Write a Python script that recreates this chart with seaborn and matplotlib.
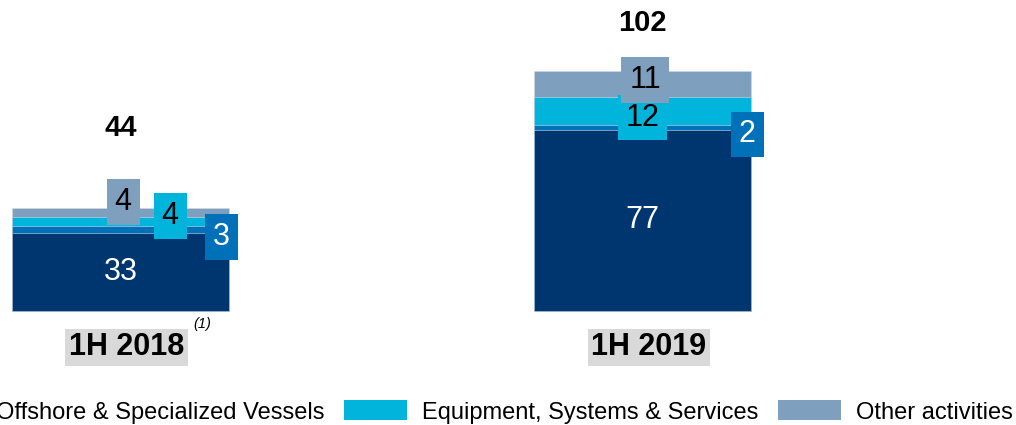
import matplotlib
matplotlib.use("Agg")
import matplotlib.pyplot as plt
from matplotlib.patches import Patch
import seaborn as sns
import numpy as np
import pandas as pd

# ---- data ----
periods = ["1H 2018", "1H 2019"]
footnotes = ["(1)", ""]
segments = ["Shipbuilding", "Offshore & Specialized Vessels",
            "Equipment, Systems & Services", "Other activities"]
shipbuilding = [33, 77]
offshore = [3, 2]
equipment = [4, 12]
other = [4, 11]
totals = [44, 102]

# ---- style ----
colors = ["#00366f", "#0070b8", "#00b4dc", "#7f9fbe"]
label_text_colors = ["white", "white", "black", "black"]
# boxed-label offsets (dx, dy) relative to the segment centre, per segment per period
box_offsets = {
    1: [(0.193, -3.2), (0.201, -2.9)],
    2: [(0.095, 2.4), (0.0, -2.7)],
    3: [(0.005, 4.4), (0.005, 1.6)],
}
total_offsets = [34, 20.5]

sns.set_theme(style="white")
plt.rcParams["font.family"] = ["Liberation Sans", "DejaVu Sans"]
plt.rcParams["text.color"] = "black"

fig = plt.figure(figsize=(10.16, 4.25), dpi=100)
ax = fig.add_axes([0, 0, 1, 1])

values = [shipbuilding, offshore, equipment, other]
cum = np.cumsum(np.array(values), axis=0)
bottoms = np.vstack([np.zeros(len(periods)), cum[:-1]])

for i in reversed(range(len(segments))):
    df = pd.DataFrame({"period": periods, "value": cum[i]})
    sns.barplot(data=df, x="period", y="value", color=colors[i], saturation=1,
                width=0.416, errorbar=None, ax=ax,
                edgecolor="#d0dae6", linewidth=0.4)

ax.set_xlim(-0.2308, 1.7155)
ax.set_ylim(-48.5, 132.3)
ax.axis("off")

# navy labels inside bars
for j in range(len(periods)):
    ax.text(j, shipbuilding[j] / 2, str(shipbuilding[j]), color="white",
            fontsize=22, ha="center", va="center")

# boxed labels
for i in [1, 2, 3]:
    for j in range(len(periods)):
        dx, dy = box_offsets[i][j]
        yc = bottoms[i][j] + values[i][j] / 2 + dy
        ax.text(j + dx, yc, str(values[i][j]), color=label_text_colors[i],
                fontsize=22, ha="center", va="center", zorder=5 + i,
                bbox=dict(boxstyle="square,pad=0.26", facecolor=colors[i],
                          edgecolor="none"))

# totals
for j in range(len(periods)):
    ax.text(j, totals[j] + total_offsets[j], str(totals[j]), fontsize=21,
            fontweight="bold", ha="center", va="center", color="black")

# category labels
for j in range(len(periods)):
    ax.text(j + 0.012, -15.5, periods[j], fontsize=22, fontweight="bold",
            ha="center", va="center", color="black",
            bbox=dict(boxstyle="square,pad=0.12", facecolor="#d9d9d9",
                      edgecolor="none"))
    if footnotes[j]:
        ax.text(j + 0.139, -5.5, footnotes[j], fontsize=10.5, fontstyle="italic",
                ha="left", va="center", color="black")

handles = [Patch(facecolor=c, edgecolor="none") for c in colors]
fig.legend(handles, segments, loc="center right",
           bbox_to_anchor=(1013 / 1016, 1 - 412 / 425), ncol=4, frameon=False,
           fontsize=17, handlelength=2.7, handleheight=0.93,
           handletextpad=0.63, columnspacing=0.8, borderpad=0,
           borderaxespad=0, labelcolor="black")

fig.savefig("out.png", dpi=100)
